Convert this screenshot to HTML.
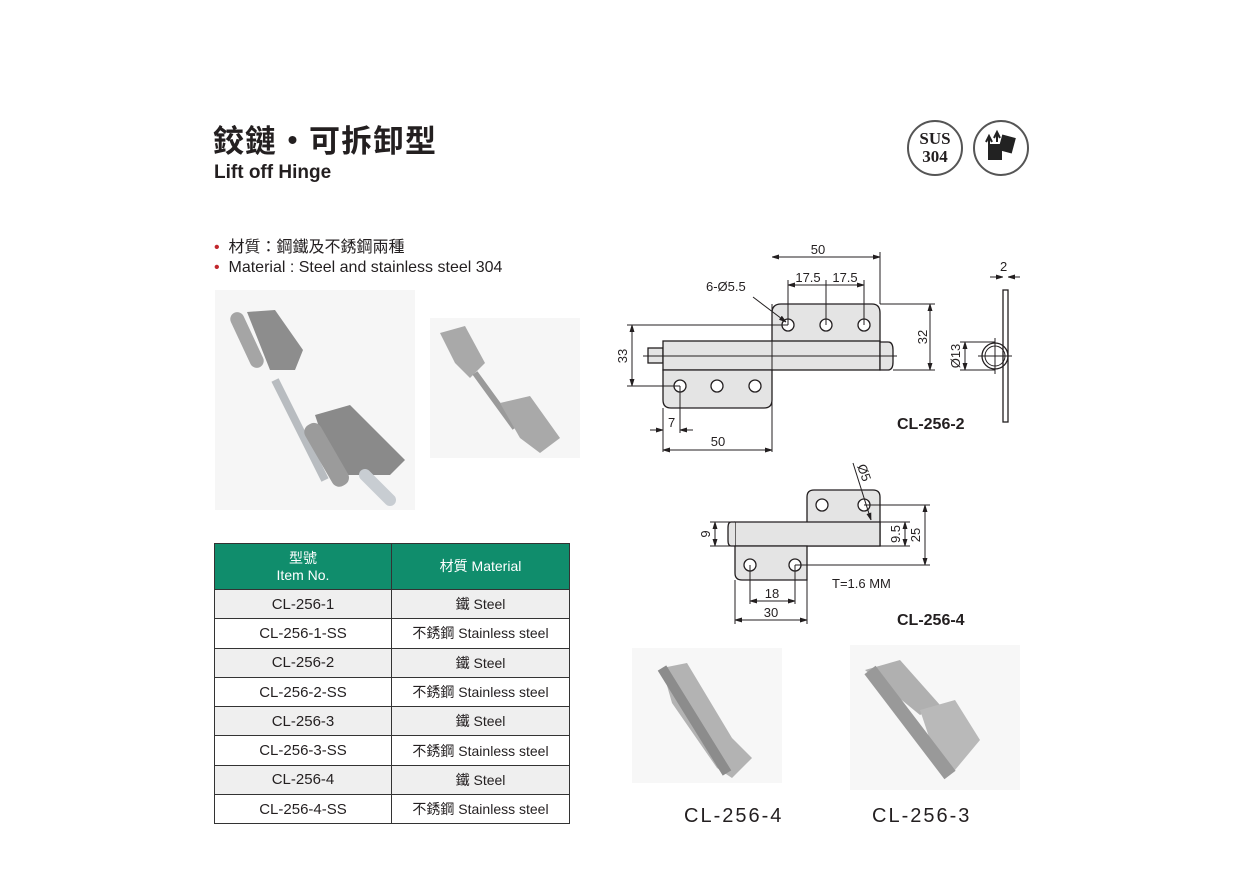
<!DOCTYPE html>
<html><head><meta charset="utf-8"><style>
body{margin:0;width:1241px;height:878px;background:#fff;position:relative;overflow:hidden;font-family:"Liberation Sans","Noto Sans CJK TC",sans-serif;color:#231f20}
.a{position:absolute}
table{position:absolute;left:214px;top:543px;border-collapse:collapse;width:356px}
td{border:1.5px solid #333;text-align:center;height:28.3px;padding:0;font-size:15px}
td.m{font-size:14px}
tr.h td{background:#108d6c;color:#fff;height:45px;font-size:14px;line-height:17px}
tr.g td{background:#efefef}
</style></head><body>
<div class="a" style="left:213px;top:116px;font-size:31px;font-weight:bold;letter-spacing:1px">鉸鏈・可拆卸型</div>
<div class="a" style="left:214px;top:162px;font-size:19px;font-weight:bold">Lift off Hinge</div>
<div class="a" style="left:214px;top:233px;font-size:16px"><span style="color:#c1272d">•</span>&nbsp; 材質：鋼鐵及不銹鋼兩種</div>
<div class="a" style="left:214px;top:259px;font-size:16px"><span style="color:#c1272d">•</span>&nbsp; Material : Steel and stainless steel 304</div>
<div class="a" style="left:907px;top:120px;width:52px;height:52px;border:2px solid #555;border-radius:50%;text-align:center;font:bold 17px/18px 'Liberation Serif',serif;padding-top:0;display:flex;align-items:center;justify-content:center">SUS<br>304</div>
<div class="a" style="left:973px;top:120px;width:52px;height:52px;border:2px solid #555;border-radius:50%"></div>
<svg class="a" style="left:980px;top:128px" width="40" height="40"><rect x="8" y="16" width="14" height="16" fill="#222"/><rect x="20" y="8" width="14" height="16" fill="#222" transform="rotate(15 27 16)"/><path d="M6 14 L9 8 L12 14 M9 8 V18 M14 10 L17 4 L20 10 M17 4 V14" stroke="#222" fill="none" stroke-width="2"/></svg>

<!-- photos -->
<svg class="a" style="left:215px;top:290px" width="200" height="220">
<rect x="0" y="0" width="200" height="220" fill="#f6f6f6"/>
<path d="M32 22 L60 20 L88 60 L80 80 L55 80 Z" fill="#8d8d8d"/><rect x="25" y="20" width="14" height="60" rx="7" fill="#a5a5a5" transform="rotate(-25 32 50)"/>
<path d="M60 90 L110 190" stroke="#b8bcc0" stroke-width="8"/>
<path d="M100 125 L135 115 L190 170 L175 185 L120 185 Z" fill="#8a8a8a"/><rect x="100" y="130" width="18" height="70" rx="8" fill="#9b9b9b" transform="rotate(-30 110 160)"/>
<path d="M150 185 L175 210" stroke="#c8cdd2" stroke-width="12" stroke-linecap="round"/></svg>
<svg class="a" style="left:430px;top:318px" width="150" height="140">
<rect width="150" height="140" fill="#f6f6f6"/>
<path d="M10 15 L35 8 L55 45 L40 60 L25 45Z" fill="#a9a9a9"/><path d="M45 55 L85 110" stroke="#9a9a9a" stroke-width="6"/>
<path d="M70 85 L100 78 L130 120 L110 135 L90 120Z" fill="#a9a9a9"/></svg>
<svg class="a" style="left:632px;top:648px" width="150" height="135">
<rect width="150" height="135" fill="#f7f7f7"/>
<path d="M30 20 L55 15 L100 90 L120 110 L100 130 L85 120 L40 55Z" fill="#b3b3b3"/><path d="M30 20 L95 125" stroke="#8c8c8c" stroke-width="10"/></svg>
<svg class="a" style="left:850px;top:645px" width="170" height="145">
<rect width="170" height="145" fill="#f7f7f7"/>
<path d="M15 25 L50 15 L90 60 L70 70Z" fill="#b0b0b0"/><path d="M70 65 L105 55 L130 95 L105 125 L85 110Z" fill="#b9b9b9"/><path d="M20 25 L100 130" stroke="#999" stroke-width="14"/></svg>
<div class="a" style="left:684px;top:805px;font-size:20px;letter-spacing:2px">CL-256-4</div>
<div class="a" style="left:872px;top:805px;font-size:20px;letter-spacing:2px">CL-256-3</div>

<svg class="a" style="left:0;top:0" width="1241" height="878" font-family="Liberation Sans" font-size="13" fill="none" stroke="#231f20" stroke-width="1">
<defs><marker id="ar" viewBox="0 0 10 10" refX="10" refY="5" markerWidth="7" markerHeight="7" orient="auto-start-reverse"><path d="M0 2 L10 5 L0 8z" fill="#231f20"/></marker></defs>
<g fill="#e4e4e4" stroke="#231f20" stroke-width="1.3">
<path d="M772 345 V313 Q772 304 781 304 H872 Q880 304 880 313 V345Z"/>
<rect x="648" y="348" width="15" height="15"/>
<rect x="663" y="341" width="217" height="29"/>
<path d="M880 342 H888 Q893 342 893 350 V362 Q893 370 888 370 H880Z"/>
<path d="M663 370 H772 V400 Q772 408 764 408 H671 Q663 408 663 400Z"/>
</g>
<line x1="643" y1="356" x2="897" y2="356"/>
<g fill="#fff" stroke-width="1.3"><circle cx="788" cy="325" r="6"/><circle cx="826" cy="325" r="6"/><circle cx="864" cy="325" r="6"/><circle cx="680" cy="386" r="6"/><circle cx="717" cy="386" r="6"/><circle cx="755" cy="386" r="6"/></g>
<line x1="772" y1="304" x2="772" y2="452"/><line x1="880" y1="304" x2="880" y2="252"/>
<line x1="772" y1="257" x2="880" y2="257" marker-start="url(#ar)" marker-end="url(#ar)"/>
<line x1="788" y1="325" x2="788" y2="280"/><line x1="826" y1="325" x2="826" y2="280"/><line x1="864" y1="325" x2="864" y2="280"/>
<line x1="788" y1="285" x2="864" y2="285" marker-start="url(#ar)" marker-end="url(#ar)"/>
<line x1="753" y1="297" x2="786" y2="322" marker-end="url(#ar)"/>
<line x1="880" y1="304" x2="935" y2="304"/><line x1="893" y1="370" x2="935" y2="370"/>
<line x1="930" y1="304" x2="930" y2="370" marker-start="url(#ar)" marker-end="url(#ar)"/>
<line x1="627" y1="325" x2="788" y2="325"/><line x1="627" y1="386" x2="680" y2="386"/>
<line x1="632" y1="325" x2="632" y2="386" marker-start="url(#ar)" marker-end="url(#ar)"/>
<line x1="663" y1="408" x2="663" y2="452"/><line x1="680" y1="386" x2="680" y2="433"/>
<line x1="650" y1="430" x2="663" y2="430" marker-end="url(#ar)"/><line x1="693" y1="430" x2="680" y2="430" marker-end="url(#ar)"/>
<line x1="663" y1="450" x2="772" y2="450" marker-start="url(#ar)" marker-end="url(#ar)"/>
<rect x="1003" y="290" width="5" height="132" stroke-width="1.3"/>
<circle cx="995" cy="356" r="13" stroke-width="1.3"/><circle cx="995" cy="356" r="10"/>
<line x1="978" y1="356" x2="1012" y2="356"/><line x1="995" y1="338" x2="995" y2="374"/>
<line x1="960" y1="342" x2="995" y2="342"/><line x1="960" y1="370" x2="995" y2="370"/>
<line x1="965" y1="342" x2="965" y2="370" marker-start="url(#ar)" marker-end="url(#ar)"/>
<line x1="990" y1="277" x2="1003" y2="277" marker-end="url(#ar)"/><line x1="1020" y1="277" x2="1008" y2="277" marker-end="url(#ar)"/>
<g fill="#e4e4e4" stroke-width="1.3">
<path d="M807 546 V497 Q807 490 814 490 H873 Q880 490 880 497 V546Z"/>
<path d="M735 522 H880 V546 H735 Z"/><path d="M735 522 H731 Q728 522 728 528 V540 Q728 546 731 546 H735"/>
<path d="M735 546 H807 V580 H742 Q735 580 735 573Z"/>
</g>
<line x1="807" y1="522" x2="880" y2="522"/>
<g fill="#fff" stroke-width="1.3"><circle cx="822" cy="505" r="6"/><circle cx="864" cy="505" r="6"/><circle cx="750" cy="565" r="6"/><circle cx="795" cy="565" r="6"/></g>
<line x1="853" y1="463" x2="871" y2="520" marker-end="url(#ar)"/>
<line x1="710" y1="522" x2="730" y2="522"/><line x1="710" y1="546" x2="730" y2="546"/>
<line x1="715" y1="522" x2="715" y2="546" marker-start="url(#ar)" marker-end="url(#ar)"/>
<line x1="880" y1="522" x2="910" y2="522"/><line x1="880" y1="546" x2="910" y2="546"/>
<line x1="905" y1="522" x2="905" y2="546" marker-start="url(#ar)" marker-end="url(#ar)"/>
<line x1="864" y1="505" x2="930" y2="505"/><line x1="795" y1="565" x2="930" y2="565"/>
<line x1="925" y1="505" x2="925" y2="565" marker-start="url(#ar)" marker-end="url(#ar)"/>
<line x1="750" y1="565" x2="750" y2="604"/><line x1="795" y1="565" x2="795" y2="604"/>
<line x1="750" y1="601" x2="795" y2="601" marker-start="url(#ar)" marker-end="url(#ar)"/>
<line x1="735" y1="580" x2="735" y2="624"/><line x1="807" y1="546" x2="807" y2="624"/>
<line x1="735" y1="620" x2="807" y2="620" marker-start="url(#ar)" marker-end="url(#ar)"/>
<g fill="#231f20" stroke="none">
<text x="818" y="254" text-anchor="middle">50</text>
<text x="808" y="282" text-anchor="middle">17.5</text><text x="845" y="282" text-anchor="middle">17.5</text>
<text x="706" y="291">6-Ø5.5</text>
<text x="927" y="337" text-anchor="middle" transform="rotate(-90 927 337)">32</text>
<text x="627" y="356" text-anchor="middle" transform="rotate(-90 627 356)">33</text>
<text x="668" y="427">7</text>
<text x="718" y="446" text-anchor="middle">50</text>
<text x="960" y="356" text-anchor="middle" transform="rotate(-90 960 356)">Ø13</text>
<text x="1000" y="271">2</text>
<text x="897" y="429" font-size="16" font-weight="bold">CL-256-2</text>
<text x="857" y="466" transform="rotate(70 857 466)">Ø5</text>
<text x="710" y="534" text-anchor="middle" transform="rotate(-90 710 534)">9</text>
<text x="900" y="534" text-anchor="middle" transform="rotate(-90 900 534)">9.5</text>
<text x="920" y="535" text-anchor="middle" transform="rotate(-90 920 535)">25</text>
<text x="772" y="598" text-anchor="middle">18</text><text x="771" y="617" text-anchor="middle">30</text>
<text x="832" y="588">T=1.6 MM</text>
<text x="897" y="625" font-size="16" font-weight="bold">CL-256-4</text>
</g>
</svg>

<table>
<tr class="h"><td style="width:176px">型號<br>Item No.</td><td>材質 Material</td></tr>
<tr class="g"><td>CL-256-1</td><td class="m">鐵 Steel</td></tr>
<tr><td>CL-256-1-SS</td><td class="m">不銹鋼 Stainless steel</td></tr>
<tr class="g"><td>CL-256-2</td><td class="m">鐵 Steel</td></tr>
<tr><td>CL-256-2-SS</td><td class="m">不銹鋼 Stainless steel</td></tr>
<tr class="g"><td>CL-256-3</td><td class="m">鐵 Steel</td></tr>
<tr><td>CL-256-3-SS</td><td class="m">不銹鋼 Stainless steel</td></tr>
<tr class="g"><td>CL-256-4</td><td class="m">鐵 Steel</td></tr>
<tr><td>CL-256-4-SS</td><td class="m">不銹鋼 Stainless steel</td></tr>
</table>
</body></html>
